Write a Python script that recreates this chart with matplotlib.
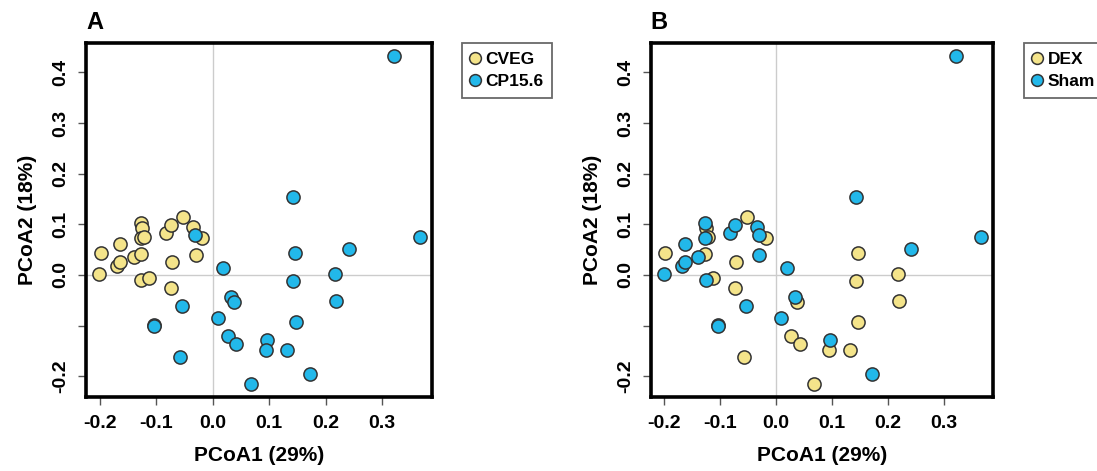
import numpy as np
import matplotlib.pyplot as plt

plt.rcParams['font.family'] = ['Liberation Sans', 'DejaVu Sans']
plt.rcParams['font.weight'] = 'bold'

# PCoA coordinates (same samples in both panels)
pc1 = [-0.201, -0.198, -0.163, -0.169, -0.163, -0.139, -0.127, -0.127, -0.125, -0.127,
       -0.122, -0.126, -0.112, -0.083, -0.074, -0.052, -0.035, -0.019, -0.030, -0.072,
       -0.073, -0.031, 0.019, 0.033, 0.038, 0.009, -0.054, -0.103, -0.104, -0.057,
       0.027, 0.042, 0.067, 0.142, 0.321, 0.366, 0.146, 0.241, 0.217, 0.142,
       0.219, 0.147, 0.097, 0.094, 0.131, 0.172]
pc2 = [0.001, 0.044, 0.062, 0.018, 0.026, 0.035, 0.041, 0.103, 0.093, 0.072,
       0.074, -0.010, -0.006, 0.082, 0.098, 0.115, 0.095, 0.073, 0.039, 0.026,
       -0.026, 0.078, 0.014, -0.044, -0.053, -0.085, -0.061, -0.098, -0.101, -0.162,
       -0.121, -0.136, -0.216, 0.154, 0.433, 0.074, 0.044, 0.051, 0.001, -0.012,
       -0.051, -0.093, -0.128, -0.149, -0.149, -0.195]

# group membership, panel A (diet) and panel B (treatment)
group_a = ['CVEG'] * 21 + ['CP15.6'] * 25
group_b = ['Sham', 'DEX', 'Sham', 'Sham', 'Sham', 'Sham', 'DEX', 'Sham', 'DEX', 'Sham',
           'DEX', 'Sham', 'DEX', 'Sham', 'Sham', 'DEX', 'Sham', 'DEX', 'Sham', 'DEX',
           'DEX', 'Sham', 'Sham', 'Sham', 'DEX', 'Sham', 'Sham', 'Sham', 'Sham', 'DEX',
           'DEX', 'DEX', 'DEX', 'Sham', 'Sham', 'Sham', 'DEX', 'Sham', 'DEX', 'DEX',
           'DEX', 'DEX', 'Sham', 'DEX', 'DEX', 'Sham']

yellow = '#F4E48A'
blue = '#22B8EA'

fig = plt.figure(figsize=(10.97, 4.71), dpi=100)

panels = [
    ('A', group_a, ['CVEG', 'CP15.6'], [0.0784, 0.1571, 0.3154, 0.7516], 462),
    ('B', group_b, ['DEX', 'Sham'], [0.5932, 0.1571, 0.3124, 0.7516], 1024),
]

x = np.array(pc1)
y = np.array(pc2)

for letter, groups, names, pos, leg_x in panels:
    ax = fig.add_axes(pos)
    ax.axvline(0, color='#cccccc', lw=1, zorder=0)
    ax.axhline(0, color='#cccccc', lw=1, zorder=0)
    g = np.array(groups)
    handles = []
    for name, col in zip(names, [yellow, blue]):
        m = g == name
        ax.scatter(x[m], y[m], s=90, c=col, edgecolors='#333333', linewidths=1.1, zorder=3)
        handles.append(plt.Line2D([], [], marker='o', ls='', markersize=8.5,
                                  markerfacecolor=col, markeredgecolor='#333333',
                                  markeredgewidth=1.1, label=name))
    ax.set_xlim(-0.224, 0.388)
    ax.set_ylim(-0.241, 0.458)
    ax.set_xticks([-0.2, -0.1, 0.0, 0.1, 0.2, 0.3])
    ax.set_xticklabels(['-0.2', '-0.1', '0.0', '0.1', '0.2', '0.3'])
    ax.set_yticks([-0.2, -0.1, 0.0, 0.1, 0.2, 0.3, 0.4])
    ax.set_yticklabels(['-0.2', '', '0.0', '0.1', '0.2', '0.3', '0.4'],
                       rotation=90, va='center')
    ax.tick_params(length=6, width=1, color='#555555', labelsize=14, pad=7)
    ax.tick_params(axis='y', pad=6)
    for sp in ax.spines.values():
        sp.set_linewidth(2.6)
    ax.set_xlabel('PCoA1 (29%)', fontsize=15, fontweight='bold', labelpad=10)
    ax.set_ylabel('PCoA2 (18%)', fontsize=15, fontweight='bold', labelpad=11)
    ax.text(0.0, 1.025, letter, transform=ax.transAxes, fontsize=17,
            fontweight='bold', ha='left', va='bottom')
    leg = fig.legend(handles=handles, loc='upper left',
                     bbox_to_anchor=(leg_x / 1097, 1 - 43 / 471),
                     bbox_transform=fig.transFigure, borderaxespad=0,
                     fontsize=12.5, frameon=True, fancybox=False,
                     handletextpad=0.4, handlelength=0.45, borderpad=0.5,
                     labelspacing=0.4)
    leg.get_frame().set_edgecolor('#444444')
    leg.get_frame().set_linewidth(1.3)
    for t in leg.get_texts():
        t.set_fontweight('bold')

fig.savefig('out.png', dpi=100)
